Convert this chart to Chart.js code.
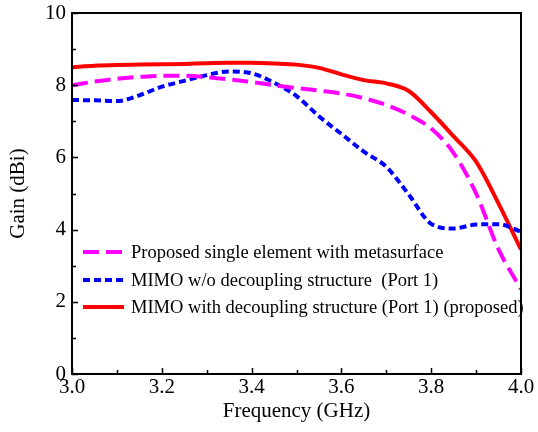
<!DOCTYPE html>
<html>
<head>
<meta charset="utf-8">
<script src="https://cdn.jsdelivr.net/npm/chart.js@4.4.0/dist/chart.umd.min.js"></script>
<style>
  body { margin: 0; background: #fff; }
  canvas { display: block; }
</style>
</head>
<body>
<canvas id="gain-chart" width="538" height="432"></canvas>
<script>
var freq = [3.0, 3.05, 3.1, 3.15, 3.2, 3.25, 3.3, 3.35, 3.4, 3.45, 3.5,
            3.55, 3.6, 3.65, 3.7, 3.75, 3.8, 3.85, 3.9, 3.95, 4.0];

var gainSingle = [8.0, 8.10, 8.18, 8.23, 8.26, 8.26, 8.22, 8.16, 8.09, 8.0, 7.92,
                  7.85, 7.77, 7.64, 7.45, 7.18, 6.80, 6.12, 5.0, 3.45, 2.35];

var gainNoDecoupling = [7.59, 7.58, 7.56, 7.72, 7.96, 8.12, 8.28, 8.38, 8.33, 8.07, 7.70,
                        7.14, 6.65, 6.16, 5.74, 4.97, 4.16, 4.03, 4.14, 4.15, 3.94];

var gainDecoupling = [8.50, 8.54, 8.56, 8.57, 8.58, 8.59, 8.61, 8.62, 8.62, 8.60, 8.57,
                      8.48, 8.30, 8.14, 8.05, 7.84, 7.25, 6.58, 5.88, 4.72, 3.45];

var seriesLabels = [
  'Proposed single element with metasurface',
  'MIMO w/o decoupling structure  (Port 1)',
  'MIMO with decoupling structure (Port 1) (proposed)'
];

var xTicks = [3.0, 3.2, 3.4, 3.6, 3.8, 4.0];
var yTicks = [0, 2, 4, 6, 8, 10];

var serif = "'Liberation Serif', 'Times New Roman', serif";

function points(values) {
  return freq.map(function(f, i) { return {x: f, y: values[i]}; });
}

// frame, inward ticks and the in-plot legend
var framePlugin = {
  id: 'frame',
  afterDraw: function(chart) {
    var ctx = chart.ctx;
    var area = chart.chartArea;
    var xs = chart.scales.x, ys = chart.scales.y;
    ctx.save();
    ctx.strokeStyle = '#000';
    ctx.lineWidth = 2;
    ctx.strokeRect(area.left, area.top, area.right - area.left, area.bottom - area.top);

    ctx.lineWidth = 1.5;
    ctx.beginPath();
    for (var i = 0; i <= 10; i++) {
      var xv = 3 + i * 0.1;
      var px = Math.round(xs.getPixelForValue(xv)) + 0.5;
      var len = i % 2 === 0 ? 6 : 4;
      ctx.moveTo(px, area.bottom);
      ctx.lineTo(px, area.bottom - len);
    }
    for (var j = 0; j <= 10; j++) {
      var py = Math.round(ys.getPixelForValue(j)) + 0.5;
      var l = j % 2 === 0 ? 6 : 4;
      ctx.moveTo(area.left, py);
      ctx.lineTo(area.left + l, py);
    }
    ctx.stroke();

    // legend
    var rows = [252, 280, 307];
    ctx.font = '18.5px ' + serif;
    ctx.textBaseline = 'middle';
    chart.data.datasets.forEach(function(ds, k) {
      var y = rows[k];
      ctx.strokeStyle = ds.borderColor;
      ctx.lineWidth = ds.borderWidth;
      ctx.setLineDash(ds.borderDash || []);
      ctx.beginPath();
      ctx.moveTo(83, y);
      ctx.lineTo(124, y);
      ctx.stroke();
      ctx.setLineDash([]);
      ctx.fillStyle = '#000';
      ctx.fillText(ds.label, 131, y + 1);
    });
    ctx.restore();
  }
};

var chart = new Chart(document.getElementById('gain-chart'), {
  type: 'line',
  data: {
    datasets: [{
      label: seriesLabels[0],
      data: points(gainSingle),
      borderColor: '#ff00ff',
      borderWidth: 4,
      borderDash: [16, 7]
    }, {
      label: seriesLabels[1],
      data: points(gainNoDecoupling),
      borderColor: '#0000ff',
      borderWidth: 4,
      borderDash: [7, 4]
    }, {
      label: seriesLabels[2],
      data: points(gainDecoupling),
      borderColor: '#ff0000',
      borderWidth: 4
    }]
  },
  options: {
    responsive: false,
    animation: false,
    parsing: false,
    elements: {
      point: { radius: 0 },
      line: { cubicInterpolationMode: 'monotone', borderCapStyle: 'butt' }
    },
    layout: { padding: { top: 13, right: 17, left: 0, bottom: 0 } },
    plugins: {
      legend: { display: false },
      tooltip: { enabled: false }
    },
    scales: {
      x: {
        type: 'linear',
        min: 3,
        max: 4,
        afterBuildTicks: function(s) { s.ticks = xTicks.map(function(v) { return {value: v}; }); },
        afterFit: function(s) {
          s.height = 58;
          s.paddingLeft = 0;
          s.paddingRight = 0;
        },
        ticks: {
          color: '#000',
          font: { family: serif, size: 21 },
          padding: 1,
          maxRotation: 0,
          callback: function(v) { return v.toFixed(1); }
        },
        grid: { display: false, drawTicks: false },
        border: { display: false },
        title: {
          display: true,
          text: 'Frequency (GHz)',
          color: '#000',
          font: { family: serif, size: 21 },
          padding: { top: 0, bottom: 8 }
        }
      },
      y: {
        min: 0,
        max: 10,
        afterBuildTicks: function(s) { s.ticks = yTicks.map(function(v) { return {value: v}; }); },
        afterFit: function(s) {
          s.width = 72;
          s.paddingTop = 0;
          s.paddingBottom = 0;
        },
        ticks: {
          color: '#000',
          font: { family: serif, size: 21 },
          padding: 6
        },
        grid: { display: false, drawTicks: false },
        border: { display: false },
        title: {
          display: true,
          text: 'Gain (dBi)',
          color: '#000',
          font: { family: serif, size: 21 },
          padding: { top: 6, bottom: 0 }
        }
      }
    }
  },
  plugins: [framePlugin]
});
</script>
</body>
</html>
